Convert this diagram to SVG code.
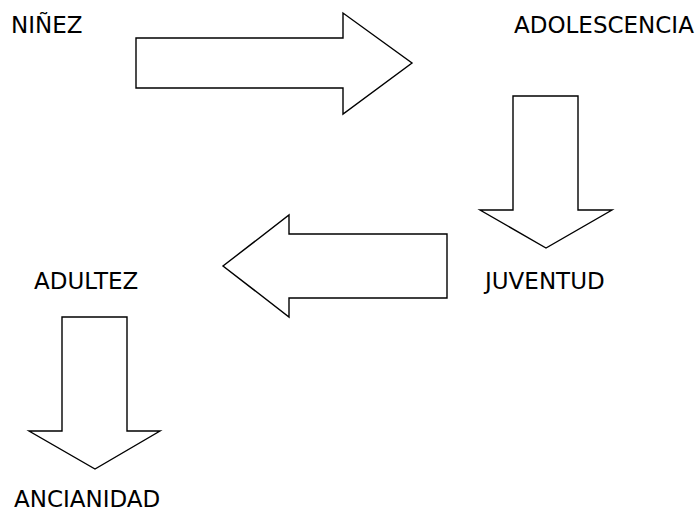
<svg xmlns="http://www.w3.org/2000/svg" width="699" height="512" viewBox="0 0 699 512">
<style>
.lbl{font-family:"DejaVu Sans",Verdana,sans-serif;font-size:23px;fill:#000}
.arr{fill:#fff;stroke:#000;stroke-width:1.4;stroke-linejoin:miter}
</style>
<rect width="699" height="512" fill="#fff"/>
<g id="ninez"><text class="lbl" x="11" y="33">NIÑEZ</text></g>
<g id="adolescencia"><text class="lbl" x="514" y="33">ADOLESCENCIA</text></g>
<g id="juventud"><text class="lbl" x="485" y="289">JUVENTUD</text></g>
<g id="adultez"><text class="lbl" x="34" y="289">ADULTEZ</text></g>
<g id="ancianidad"><text class="lbl" x="14" y="507">ANCIANIDAD</text></g>
<g id="connectors">
<polygon class="arr" points="136,38 343,38 343,13 412,63 343,114 343,88 136,88"/>
<polygon class="arr" points="513,96 578,96 578,210 612,210 546,248 480,210 513,210"/>
<polygon class="arr" points="447,234 289,234 289,215 223,266 289,317 289,298 447,298"/>
<polygon class="arr" points="62,317 127,317 127,431 160,431 95,469 29,431 62,431"/>
</g>
</svg>
